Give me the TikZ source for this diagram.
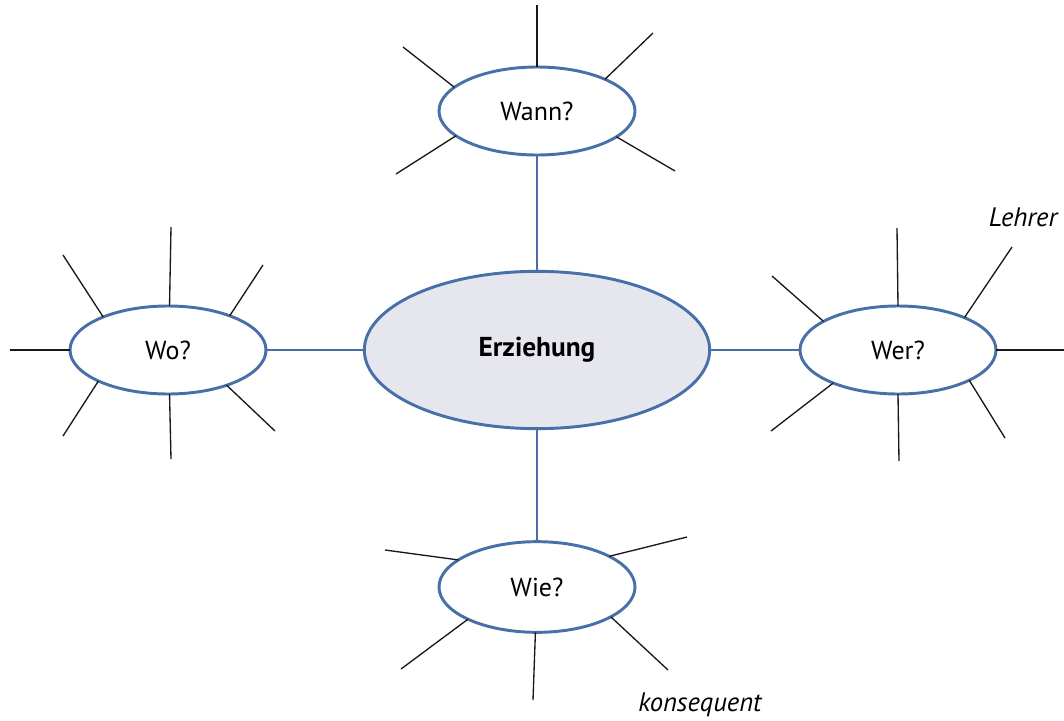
\documentclass[tikz,border=0pt]{standalone}
\usepackage{fontspec}
\setmainfont{PT Sans}
\usetikzlibrary{shapes.geometric}
\definecolor{ringblue}{HTML}{4870A8}
\definecolor{corefill}{HTML}{E6E6EF}
\tikzset{
  bubble/.style={ellipse, draw=ringblue, line width=2.2pt, fill=white,
    minimum width=147pt, minimum height=66pt, inner sep=0pt, outer sep=0pt,
    font=\fontsize{19.5}{22}\selectfont},
  core/.style={ellipse, draw=ringblue, line width=2.2pt, fill=corefill,
    minimum width=259pt, minimum height=118pt, inner sep=0pt, outer sep=0pt,
    font=\fontsize{20.5}{23}\selectfont\bfseries},
  spoke/.style={draw=black!90, line width=1.0pt},
  link/.style={draw=ringblue, line width=1.4pt},
  hand/.style={font=\fontsize{20}{22}\selectfont\itshape, inner sep=0pt}
}
\begin{document}
\begin{tikzpicture}[x=0.75pt,y=-0.75pt]
\fill[white] (0,0) rectangle (1064,721);
\useasboundingbox (0,0) rectangle (1064,721);

\node[core] (erz) at (537,350) {Erziehung};
\node[bubble] (wann) at (537,111) {Wann?};
\node[bubble] (wo) at (168,350) {Wo?};
\node[bubble] (wer) at (898,350) {Wer?};
\node[bubble, minimum height=68pt] (wie) at (537,587) {Wie?};

\draw[link] (wann.south) -- (erz.north);
\draw[link] (wo.east) -- (erz.west);
\draw[link] (erz.east) -- (wer.west);
\draw[link] (erz.south) -- (wie.north);

% Wann spokes
\coordinate (wa1) at (537,5);
\coordinate (wa2) at (403,47);
\coordinate (wa3) at (653,33);
\coordinate (wa4) at (396,174);
\coordinate (wa5) at (675,171);
\draw[spoke] (wann.90) -- (wa1);
\draw[spoke] (wann.164.9) -- (wa2);
\draw[spoke] (wann.25.2) -- (wa3);
\draw[spoke] (wann.-163.6) -- (wa4);
\draw[spoke] (wann.-18.9) -- (wa5);

% Wo spokes
\coordinate (wo1) at (171,227);
\coordinate (wo2) at (63,255);
\coordinate (wo3) at (263,265);
\coordinate (wo4) at (10,350);
\coordinate (wo5) at (63,436);
\coordinate (wo6) at (171,459);
\coordinate (wo7) at (275,431);
\draw[spoke] (wo.88) -- (wo1);
\draw[spoke] (wo.153.8) -- (wo2);
\draw[spoke] (wo.29.1) -- (wo3);
\draw[spoke] (wo.180) -- (wo4);
\draw[spoke] (wo.-156.3) -- (wo5);
\draw[spoke] (wo.-88) -- (wo6);
\draw[spoke] (wo.-31.7) -- (wo7);

% Wer spokes
\coordinate (we1) at (897,228);
\coordinate (we2) at (772,276);
\coordinate (we3) at (1012,247);
\coordinate (we4) at (1064,350);
\coordinate (we5) at (771,431);
\coordinate (we6) at (899,461);
\coordinate (we7) at (1005,438);
\draw[spoke] (wer.90) -- (we1);
\draw[spoke] (wer.159.1) -- (we2);
\draw[spoke] (wer.26.9) -- (we3);
\draw[spoke] (wer.0) -- (we4);
\draw[spoke] (wer.-153.1) -- (we5);
\draw[spoke] (wer.-90) -- (we6);
\draw[spoke] (wer.-23.1) -- (we7);

% Wie spokes
\coordinate (wi1) at (385,550);
\coordinate (wi2) at (687,537);
\coordinate (wi3) at (401,669);
\coordinate (wi4) at (533,700);
\coordinate (wi5) at (668,670);
\draw[spoke] (wie.161.1) -- (wi1);
\draw[spoke] (wie.23.1) -- (wi2);
\draw[spoke] (wie.-155.1) -- (wi3);
\draw[spoke] (wie.-92) -- (wi4);
\draw[spoke] (wie.-22.1) -- (wi5);

% handwritten answers
\node[hand] (lehrer) at (1023,217) {Lehrer};
\node[hand] (konseq) at (700,705) {konsequent};
\end{tikzpicture}
\end{document}
